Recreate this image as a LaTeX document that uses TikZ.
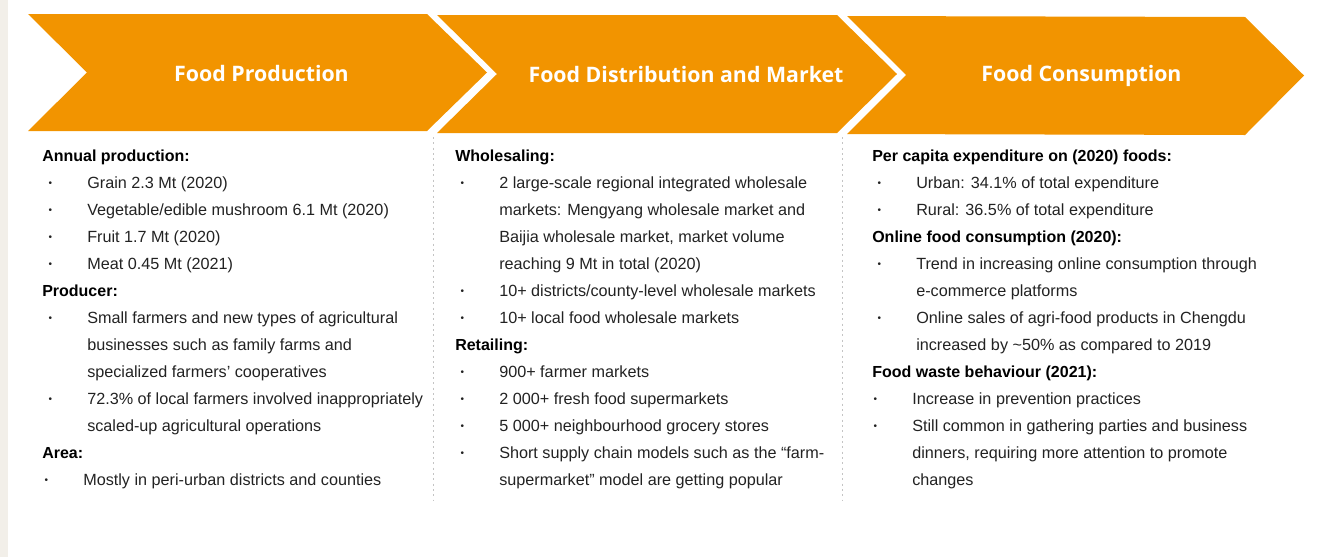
\documentclass[tikz,border=0pt]{standalone}
\usepackage{fontspec}
\setmainfont{Liberation Sans}
\newfontfamily\titlefont{Open Sans}[Ligatures=NoCommon]
\definecolor{foodorange}{HTML}{F29400}
\definecolor{ink}{HTML}{222222}
\definecolor{rulegray}{HTML}{C4C4C4}
\definecolor{sidebeige}{HTML}{F2EFE9}
\begin{document}
\begin{tikzpicture}[x=0.75pt, y=-0.75pt,
    chevron/.style={fill=foodorange},
    title/.style={text=white, font=\titlefont\bfseries\fontsize{16}{18}\selectfont},
    body/.style={anchor=west, inner sep=0pt, text=ink, text height=8.5pt, text depth=2.5pt,
      font=\fontsize{12.15}{14}\selectfont},
    head/.style={body, font=\fontsize{12}{14}\selectfont\bfseries, text=black},
    item/.style={body, label={[inner sep=0pt, label distance=26pt, text=ink,
      font=\fontsize{7.5}{8}\selectfont]left:\textbullet}},
    divider/.style={rulegray, line width=0.6pt, dash pattern=on 1.5pt off 2.5pt}]
  \useasboundingbox (0,0) rectangle (1320,557);
  \fill[sidebeige] (0,0) rectangle (8,557);

  \fill[chevron] (28,14) -- (427,14) -- (487,72.5) -- (427,131) -- (28,131) -- (87,72.5) -- cycle;
  \fill[chevron] (437,15) -- (837,15) -- (897,74) -- (837,133) -- (437,133) -- (497,74) -- cycle;
  \fill[chevron] (847,16) -- (1245,17) -- (1304,75.5) -- (1245,135) -- (847,134) -- (906,75) -- cycle;
  \node[title] (prod) at (261.5,73.5) {Food Production};
  \node[title] (dist) at (686,74.5) {Food Distribution and Market};
  \node[title] (cons) at (1081.5,75.5) {Food Consumption};

  \draw[divider] (433,137) -- (433,500);
  \draw[divider] (842,137) -- (842,500);

  \node[head] (prod1) at (42,157) {Annual production:};
  \node[item] (prod2) at (87,184) {Grain 2.3 Mt (2020)};
  \node[item] (prod3) at (87,211) {Vegetable/edible mushroom 6.1 Mt (2020)};
  \node[item] (prod4) at (87,238) {Fruit 1.7 Mt (2020)};
  \node[item] (prod5) at (87,265) {Meat 0.45 Mt (2021)};
  \node[head] (prod6) at (42,292) {Producer:};
  \node[item] (prod7) at (87,319) {Small farmers and new types of agricultural};
  \node[body] (prod8) at (87,346) {businesses such as family farms and};
  \node[body] (prod9) at (87,373) {specialized farmers’ cooperatives};
  \node[item] (prod10) at (87,400) {72.3\% of local farmers involved inappropriately};
  \node[body] (prod11) at (87,427) {scaled-up agricultural operations};
  \node[head] (prod12) at (42,454) {Area:};
  \node[item] (prod13) at (83,481) {Mostly in peri-urban districts and counties};

  \node[head] (dist1) at (455,157) {Wholesaling:};
  \node[item] (dist2) at (499,184) {2 large-scale regional integrated wholesale};
  \node[body] (dist3) at (499,211) {markets: Mengyang wholesale market and};
  \node[body] (dist4) at (499,238) {Baijia wholesale market, market volume};
  \node[body] (dist5) at (499,265) {reaching 9 Mt in total (2020)};
  \node[item] (dist6) at (499,292) {10+ districts/county-level wholesale markets};
  \node[item] (dist7) at (499,319) {10+ local food wholesale markets};
  \node[head] (dist8) at (455,346) {Retailing:};
  \node[item] (dist9) at (499,373) {900+ farmer markets};
  \node[item] (dist10) at (499,400) {2 000+ fresh food supermarkets};
  \node[item] (dist11) at (499,427) {5 000+ neighbourhood grocery stores};
  \node[item] (dist12) at (499,454) {Short supply chain models such as the “farm-};
  \node[body] (dist13) at (499,481) {supermarket” model are getting popular};

  \node[head] (cons1) at (872,157) {Per capita expenditure on (2020) foods:};
  \node[item] (cons2) at (916,184) {Urban: 34.1\% of total expenditure};
  \node[item] (cons3) at (916,211) {Rural: 36.5\% of total expenditure};
  \node[head] (cons4) at (872,238) {Online food consumption (2020):};
  \node[item] (cons5) at (916,265) {Trend in increasing online consumption through};
  \node[body] (cons6) at (916,292) {e-commerce platforms};
  \node[item] (cons7) at (916,319) {Online sales of agri-food products in Chengdu};
  \node[body] (cons8) at (916,346) {increased by \textasciitilde50\% as compared to 2019};
  \node[head] (cons9) at (872,373) {Food waste behaviour (2021):};
  \node[item] (cons10) at (912,400) {Increase in prevention practices};
  \node[item] (cons11) at (912,427) {Still common in gathering parties and business};
  \node[body] (cons12) at (912,454) {dinners, requiring more attention to promote};
  \node[body] (cons13) at (912,481) {changes};
\end{tikzpicture}
\end{document}
